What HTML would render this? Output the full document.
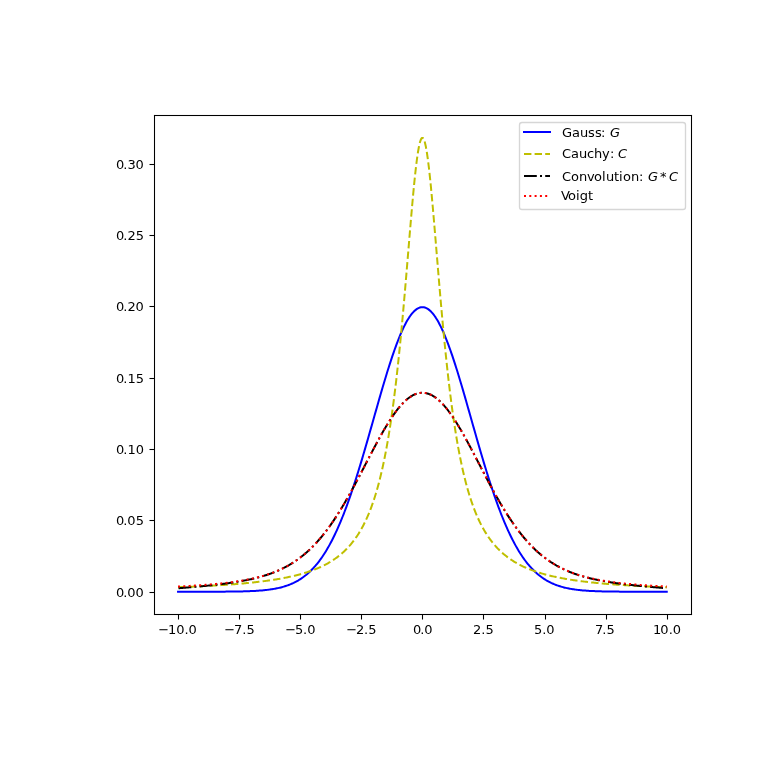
<!DOCTYPE html>
<html lang="en">
<head>
<meta charset="utf-8">
<title>Voigt profile: Gauss, Cauchy and their convolution</title>
<style>
html,body{margin:0;padding:0;background:#fff;}
body{width:768px;height:768px;overflow:hidden;}
svg{display:block;will-change:transform;}
text{font-family:"DejaVu Sans","Liberation Sans",sans-serif;font-size:13px;fill:#000;mix-blend-mode:multiply;white-space:pre;}
.it{font-style:oblique;}
.spine,.tick{fill:#000;stroke:none;}
.curve{fill:none;stroke-width:2;stroke-linejoin:round;}
</style>
</head>
<body>
<svg width="768" height="768" viewBox="0 0 768 768">
<defs><clipPath id="ax"><rect x="153.6" y="115.2" width="537.6" height="499.2"/></clipPath></defs>
<rect x="0" y="0" width="768" height="768" fill="#ffffff"/>
<g id="xaxis">
<rect class="tick" x="177.967" y="614.5" width="1.067" height="5"/>
<text id="xt0" x="158.24 167.88 176.15 184.41 188.43" y="634">−10.0</text>
<rect class="tick" x="238.967" y="614.5" width="1.067" height="5"/>
<text id="xt1" x="224.22 233.98 242.25 246.50" y="634">−7.5</text>
<rect class="tick" x="299.967" y="614.5" width="1.067" height="5"/>
<text id="xt2" x="285.18 294.95 302.96 307.21" y="634">−5.0</text>
<rect class="tick" x="360.967" y="614.5" width="1.067" height="5"/>
<text id="xt3" x="346.15 355.91 363.93 368.18" y="634">−2.5</text>
<rect class="tick" x="421.967" y="614.5" width="1.067" height="5"/>
<text id="xt4" x="412.93 420.20 424.20" y="634">0.0</text>
<rect class="tick" x="482.967" y="614.5" width="1.067" height="5"/>
<text id="xt5" x="472.90 481.16 485.41" y="634">2.5</text>
<rect class="tick" x="544.967" y="614.5" width="1.067" height="5"/>
<text id="xt6" x="533.99 542.13 546.13" y="634">5.0</text>
<rect class="tick" x="605.967" y="614.5" width="1.067" height="5"/>
<text id="xt7" x="594.95 602.22 606.47" y="634">7.5</text>
<rect class="tick" x="666.967" y="614.5" width="1.067" height="5"/>
<text id="xt8" x="652.91 660.17 668.69 672.71" y="634">10.0</text>
</g>
<g id="yaxis">
<rect class="tick" x="149.5" y="591.967" width="5" height="1.067"/>
<text id="yt0" x="115.94 123.21 127.21 135.49" y="597">0.00</text>
<rect class="tick" x="149.5" y="519.967" width="5" height="1.067"/>
<text id="yt1" x="115.94 123.21 127.21 135.74" y="525">0.05</text>
<rect class="tick" x="149.5" y="448.967" width="5" height="1.067"/>
<text id="yt2" x="115.94 123.21 127.46 135.74" y="454">0.10</text>
<rect class="tick" x="149.5" y="377.967" width="5" height="1.067"/>
<text id="yt3" x="115.94 123.21 127.46 135.74" y="383">0.15</text>
<rect class="tick" x="149.5" y="305.967" width="5" height="1.067"/>
<text id="yt4" x="115.94 123.21 127.46 135.49" y="311">0.20</text>
<rect class="tick" x="149.5" y="234.967" width="5" height="1.067"/>
<text id="yt5" x="115.94 123.21 127.46 135.74" y="240">0.25</text>
<rect class="tick" x="149.5" y="163.967" width="5" height="1.067"/>
<text id="yt6" x="115.94 123.21 127.46 135.49" y="169">0.30</text>
</g>
<g id="curves" clip-path="url(#ax)">
<path class="curve" stroke="#0000ff" stroke-linecap="square" d="M178.04 591.71
L179.02 591.71L180.00 591.71L180.97 591.71L181.95 591.71L182.93 591.71L183.91 591.71L184.89 591.71L185.87 591.71
L186.85 591.71L187.83 591.71L188.81 591.71L189.79 591.71L190.77 591.71L191.75 591.71L192.73 591.71L193.71 591.71
L194.69 591.70L195.67 591.70L196.65 591.70L197.62 591.70L198.60 591.70L199.58 591.70L200.56 591.70L201.54 591.70
L202.52 591.70L203.50 591.70L204.48 591.70L205.46 591.70L206.44 591.69L207.42 591.69L208.40 591.69L209.38 591.69
L210.36 591.69L211.34 591.68L212.32 591.68L213.30 591.68L214.27 591.68L215.25 591.67L216.23 591.67L217.21 591.67
L218.19 591.66L219.17 591.66L220.15 591.66L221.13 591.65L222.11 591.65L223.09 591.64L224.07 591.63L225.05 591.63
L226.03 591.62L227.01 591.61L227.99 591.61L228.97 591.60L229.95 591.59L230.92 591.58L231.90 591.57L232.88 591.56
L233.86 591.54L234.84 591.53L235.82 591.52L236.80 591.50L237.78 591.48L238.76 591.47L239.74 591.45L240.72 591.43
L241.70 591.40L242.68 591.38L243.66 591.36L244.64 591.33L245.62 591.30L246.60 591.27L247.57 591.24L248.55 591.20
L249.53 591.16L250.51 591.12L251.49 591.08L252.47 591.04L253.45 590.99L254.43 590.94L255.41 590.88L256.39 590.82
L257.37 590.76L258.35 590.69L259.33 590.62L260.31 590.55L261.29 590.47L262.27 590.38L263.25 590.29L264.22 590.20
L265.20 590.10L266.18 589.99L267.16 589.88L268.14 589.76L269.12 589.63L270.10 589.50L271.08 589.35L272.06 589.20
L273.04 589.04L274.02 588.88L275.00 588.70L275.98 588.51L276.96 588.31L277.94 588.11L278.92 587.89L279.90 587.66
L280.87 587.41L281.85 587.16L282.83 586.89L283.81 586.61L284.79 586.31L285.77 586.00L286.75 585.67L287.73 585.32
L288.71 584.96L289.69 584.58L290.67 584.19L291.65 583.77L292.63 583.33L293.61 582.88L294.59 582.40L295.57 581.90
L296.55 581.38L297.52 580.84L298.50 580.27L299.48 579.67L300.46 579.05L301.44 578.41L302.42 577.73L303.40 577.03
L304.38 576.30L305.36 575.54L306.34 574.75L307.32 573.92L308.30 573.07L309.28 572.18L310.26 571.26L311.24 570.30
L312.22 569.30L313.20 568.27L314.17 567.20L315.15 566.10L316.13 564.95L317.11 563.77L318.09 562.54L319.07 561.27
L320.05 559.96L321.03 558.60L322.01 557.21L322.99 555.76L323.97 554.28L324.95 552.74L325.93 551.16L326.91 549.53
L327.89 547.86L328.87 546.13L329.85 544.36L330.82 542.54L331.80 540.67L332.78 538.75L333.76 536.78L334.74 534.75
L335.72 532.68L336.70 530.56L337.68 528.38L338.66 526.16L339.64 523.88L340.62 521.56L341.60 519.18L342.58 516.75
L343.56 514.27L344.54 511.74L345.52 509.16L346.50 506.54L347.47 503.86L348.45 501.14L349.43 498.37L350.41 495.56
L351.39 492.69L352.37 489.79L353.35 486.84L354.33 483.85L355.31 480.82L356.29 477.75L357.27 474.64L358.25 471.50
L359.23 468.32L360.21 465.11L361.19 461.86L362.17 458.59L363.15 455.29L364.12 451.96L365.10 448.61L366.08 445.24
L367.06 441.85L368.04 438.44L369.02 435.01L370.00 431.58L370.98 428.13L371.96 424.68L372.94 421.22L373.92 417.77
L374.90 414.31L375.88 410.86L376.86 407.41L377.84 403.97L378.82 400.55L379.80 397.14L380.77 393.75L381.75 390.39
L382.73 387.04L383.71 383.73L384.69 380.45L385.67 377.20L386.65 373.99L387.63 370.82L388.61 367.69L389.59 364.61
L390.57 361.58L391.55 358.60L392.53 355.68L393.51 352.82L394.49 350.02L395.47 347.29L396.45 344.63L397.42 342.03
L398.40 339.51L399.38 337.07L400.36 334.71L401.34 332.43L402.32 330.23L403.30 328.12L404.28 326.10L405.26 324.18
L406.24 322.34L407.22 320.61L408.20 318.97L409.18 317.43L410.16 315.99L411.14 314.66L412.12 313.44L413.10 312.32
L414.07 311.30L415.05 310.40L416.03 309.61L417.01 308.93L417.99 308.36L418.97 307.91L419.95 307.56L420.93 307.34
L421.91 307.22L422.89 307.22L423.87 307.34L424.85 307.56L425.83 307.91L426.81 308.36L427.79 308.93L428.77 309.61
L429.75 310.40L430.73 311.30L431.70 312.32L432.68 313.44L433.66 314.66L434.64 315.99L435.62 317.43L436.60 318.97
L437.58 320.61L438.56 322.34L439.54 324.18L440.52 326.10L441.50 328.12L442.48 330.23L443.46 332.43L444.44 334.71
L445.42 337.07L446.40 339.51L447.38 342.03L448.35 344.63L449.33 347.29L450.31 350.02L451.29 352.82L452.27 355.68
L453.25 358.60L454.23 361.58L455.21 364.61L456.19 367.69L457.17 370.82L458.15 373.99L459.13 377.20L460.11 380.45
L461.09 383.73L462.07 387.04L463.05 390.39L464.03 393.75L465.00 397.14L465.98 400.55L466.96 403.97L467.94 407.41
L468.92 410.86L469.90 414.31L470.88 417.77L471.86 421.22L472.84 424.68L473.82 428.13L474.80 431.58L475.78 435.01
L476.76 438.44L477.74 441.85L478.72 445.24L479.70 448.61L480.68 451.96L481.65 455.29L482.63 458.59L483.61 461.86
L484.59 465.11L485.57 468.32L486.55 471.50L487.53 474.64L488.51 477.75L489.49 480.82L490.47 483.85L491.45 486.84
L492.43 489.79L493.41 492.69L494.39 495.56L495.37 498.37L496.35 501.14L497.33 503.86L498.30 506.54L499.28 509.16
L500.26 511.74L501.24 514.27L502.22 516.75L503.20 519.18L504.18 521.56L505.16 523.88L506.14 526.16L507.12 528.38
L508.10 530.56L509.08 532.68L510.06 534.75L511.04 536.78L512.02 538.75L513.00 540.67L513.98 542.54L514.95 544.36
L515.93 546.13L516.91 547.86L517.89 549.53L518.87 551.16L519.85 552.74L520.83 554.28L521.81 555.76L522.79 557.21
L523.77 558.60L524.75 559.96L525.73 561.27L526.71 562.54L527.69 563.77L528.67 564.95L529.65 566.10L530.63 567.20
L531.60 568.27L532.58 569.30L533.56 570.30L534.54 571.26L535.52 572.18L536.50 573.07L537.48 573.92L538.46 574.75
L539.44 575.54L540.42 576.30L541.40 577.03L542.38 577.73L543.36 578.41L544.34 579.05L545.32 579.67L546.30 580.27
L547.28 580.84L548.25 581.38L549.23 581.90L550.21 582.40L551.19 582.88L552.17 583.33L553.15 583.77L554.13 584.19
L555.11 584.58L556.09 584.96L557.07 585.32L558.05 585.67L559.03 586.00L560.01 586.31L560.99 586.61L561.97 586.89
L562.95 587.16L563.93 587.41L564.90 587.66L565.88 587.89L566.86 588.11L567.84 588.31L568.82 588.51L569.80 588.70
L570.78 588.88L571.76 589.04L572.74 589.20L573.72 589.35L574.70 589.50L575.68 589.63L576.66 589.76L577.64 589.88
L578.62 589.99L579.60 590.10L580.58 590.20L581.55 590.29L582.53 590.38L583.51 590.47L584.49 590.55L585.47 590.62
L586.45 590.69L587.43 590.76L588.41 590.82L589.39 590.88L590.37 590.94L591.35 590.99L592.33 591.04L593.31 591.08
L594.29 591.12L595.27 591.16L596.25 591.20L597.23 591.24L598.20 591.27L599.18 591.30L600.16 591.33L601.14 591.36
L602.12 591.38L603.10 591.40L604.08 591.43L605.06 591.45L606.04 591.47L607.02 591.48L608.00 591.50L608.98 591.52
L609.96 591.53L610.94 591.54L611.92 591.56L612.90 591.57L613.88 591.58L614.85 591.59L615.83 591.60L616.81 591.61
L617.79 591.61L618.77 591.62L619.75 591.63L620.73 591.63L621.71 591.64L622.69 591.65L623.67 591.65L624.65 591.66
L625.63 591.66L626.61 591.66L627.59 591.67L628.57 591.67L629.55 591.67L630.53 591.68L631.50 591.68L632.48 591.68
L633.46 591.68L634.44 591.69L635.42 591.69L636.40 591.69L637.38 591.69L638.36 591.69L639.34 591.70L640.32 591.70
L641.30 591.70L642.28 591.70L643.26 591.70L644.24 591.70L645.22 591.70L646.20 591.70L647.18 591.70L648.15 591.70
L649.13 591.70L650.11 591.70L651.09 591.71L652.07 591.71L653.05 591.71L654.03 591.71L655.01 591.71L655.99 591.71
L656.97 591.71L657.95 591.71L658.93 591.71L659.91 591.71L660.89 591.71L661.87 591.71L662.85 591.71L663.83 591.71
L664.80 591.71L665.78 591.71L666.76 591.71"/>
<path class="curve" stroke="#bfbf00" stroke-dasharray="7.4 3.2" d="M178.04 587.22
L179.02 587.18L180.00 587.14L180.97 587.11L181.95 587.07L182.93 587.03L183.91 586.99L184.89 586.95L185.87 586.92
L186.85 586.88L187.83 586.84L188.81 586.80L189.79 586.75L190.77 586.71L191.75 586.67L192.73 586.63L193.71 586.59
L194.69 586.54L195.67 586.50L196.65 586.45L197.62 586.41L198.60 586.36L199.58 586.31L200.56 586.27L201.54 586.22
L202.52 586.17L203.50 586.12L204.48 586.07L205.46 586.02L206.44 585.97L207.42 585.92L208.40 585.87L209.38 585.81
L210.36 585.76L211.34 585.71L212.32 585.65L213.30 585.59L214.27 585.54L215.25 585.48L216.23 585.42L217.21 585.36
L218.19 585.30L219.17 585.24L220.15 585.18L221.13 585.12L222.11 585.05L223.09 584.99L224.07 584.92L225.05 584.85
L226.03 584.79L227.01 584.72L227.99 584.65L228.97 584.58L229.95 584.51L230.92 584.43L231.90 584.36L232.88 584.29
L233.86 584.21L234.84 584.13L235.82 584.05L236.80 583.97L237.78 583.89L238.76 583.81L239.74 583.73L240.72 583.64
L241.70 583.56L242.68 583.47L243.66 583.38L244.64 583.29L245.62 583.20L246.60 583.10L247.57 583.01L248.55 582.91
L249.53 582.82L250.51 582.72L251.49 582.61L252.47 582.51L253.45 582.41L254.43 582.30L255.41 582.19L256.39 582.08
L257.37 581.97L258.35 581.86L259.33 581.74L260.31 581.62L261.29 581.50L262.27 581.38L263.25 581.25L264.22 581.13
L265.20 581.00L266.18 580.87L267.16 580.73L268.14 580.60L269.12 580.46L270.10 580.32L271.08 580.17L272.06 580.02
L273.04 579.87L274.02 579.72L275.00 579.57L275.98 579.41L276.96 579.25L277.94 579.08L278.92 578.91L279.90 578.74
L280.87 578.57L281.85 578.39L282.83 578.21L283.81 578.02L284.79 577.83L285.77 577.64L286.75 577.44L287.73 577.24
L288.71 577.03L289.69 576.82L290.67 576.61L291.65 576.39L292.63 576.16L293.61 575.93L294.59 575.70L295.57 575.46
L296.55 575.22L297.52 574.97L298.50 574.71L299.48 574.45L300.46 574.18L301.44 573.91L302.42 573.63L303.40 573.34
L304.38 573.05L305.36 572.75L306.34 572.44L307.32 572.12L308.30 571.80L309.28 571.47L310.26 571.13L311.24 570.78
L312.22 570.43L313.20 570.06L314.17 569.69L315.15 569.30L316.13 568.91L317.11 568.50L318.09 568.09L319.07 567.66
L320.05 567.23L321.03 566.78L322.01 566.31L322.99 565.84L323.97 565.35L324.95 564.85L325.93 564.34L326.91 563.81
L327.89 563.26L328.87 562.70L329.85 562.13L330.82 561.53L331.80 560.92L332.78 560.29L333.76 559.64L334.74 558.97
L335.72 558.28L336.70 557.57L337.68 556.84L338.66 556.08L339.64 555.30L340.62 554.50L341.60 553.67L342.58 552.81
L343.56 551.92L344.54 551.00L345.52 550.06L346.50 549.08L347.47 548.06L348.45 547.01L349.43 545.93L350.41 544.80
L351.39 543.64L352.37 542.43L353.35 541.18L354.33 539.88L355.31 538.53L356.29 537.14L357.27 535.69L358.25 534.18
L359.23 532.62L360.21 530.99L361.19 529.31L362.17 527.55L363.15 525.72L364.12 523.82L365.10 521.84L366.08 519.77
L367.06 517.62L368.04 515.38L369.02 513.05L370.00 510.61L370.98 508.06L371.96 505.41L372.94 502.63L373.92 499.73
L374.90 496.70L375.88 493.54L376.86 490.22L377.84 486.76L378.82 483.13L379.80 479.33L380.77 475.35L381.75 471.18
L382.73 466.81L383.71 462.23L384.69 457.43L385.67 452.40L386.65 447.13L387.63 441.60L388.61 435.81L389.59 429.73
L390.57 423.36L391.55 416.69L392.53 409.70L393.51 402.38L394.49 394.73L395.47 386.73L396.45 378.37L397.42 369.66
L398.40 360.58L399.38 351.13L400.36 341.33L401.34 331.17L402.32 320.68L403.30 309.87L404.28 298.77L405.26 287.41
L406.24 275.85L407.22 264.13L408.20 252.33L409.18 240.53L410.16 228.80L411.14 217.26L412.12 206.02L413.10 195.20
L414.07 184.92L415.05 175.33L416.03 166.56L417.01 158.75L417.99 152.01L418.97 146.47L419.95 142.22L420.93 139.34
L421.91 137.89L422.89 137.89L423.87 139.34L424.85 142.22L425.83 146.47L426.81 152.01L427.79 158.75L428.77 166.56
L429.75 175.33L430.73 184.92L431.70 195.20L432.68 206.02L433.66 217.26L434.64 228.80L435.62 240.53L436.60 252.33
L437.58 264.13L438.56 275.85L439.54 287.41L440.52 298.77L441.50 309.87L442.48 320.68L443.46 331.17L444.44 341.33
L445.42 351.13L446.40 360.58L447.38 369.66L448.35 378.37L449.33 386.73L450.31 394.73L451.29 402.38L452.27 409.70
L453.25 416.69L454.23 423.36L455.21 429.73L456.19 435.81L457.17 441.60L458.15 447.13L459.13 452.40L460.11 457.43
L461.09 462.23L462.07 466.81L463.05 471.18L464.03 475.35L465.00 479.33L465.98 483.13L466.96 486.76L467.94 490.22
L468.92 493.54L469.90 496.70L470.88 499.73L471.86 502.63L472.84 505.41L473.82 508.06L474.80 510.61L475.78 513.05
L476.76 515.38L477.74 517.62L478.72 519.77L479.70 521.84L480.68 523.82L481.65 525.72L482.63 527.55L483.61 529.31
L484.59 530.99L485.57 532.62L486.55 534.18L487.53 535.69L488.51 537.14L489.49 538.53L490.47 539.88L491.45 541.18
L492.43 542.43L493.41 543.64L494.39 544.80L495.37 545.93L496.35 547.01L497.33 548.06L498.30 549.08L499.28 550.06
L500.26 551.00L501.24 551.92L502.22 552.81L503.20 553.67L504.18 554.50L505.16 555.30L506.14 556.08L507.12 556.84
L508.10 557.57L509.08 558.28L510.06 558.97L511.04 559.64L512.02 560.29L513.00 560.92L513.98 561.53L514.95 562.13
L515.93 562.70L516.91 563.26L517.89 563.81L518.87 564.34L519.85 564.85L520.83 565.35L521.81 565.84L522.79 566.31
L523.77 566.78L524.75 567.23L525.73 567.66L526.71 568.09L527.69 568.50L528.67 568.91L529.65 569.30L530.63 569.69
L531.60 570.06L532.58 570.43L533.56 570.78L534.54 571.13L535.52 571.47L536.50 571.80L537.48 572.12L538.46 572.44
L539.44 572.75L540.42 573.05L541.40 573.34L542.38 573.63L543.36 573.91L544.34 574.18L545.32 574.45L546.30 574.71
L547.28 574.97L548.25 575.22L549.23 575.46L550.21 575.70L551.19 575.93L552.17 576.16L553.15 576.39L554.13 576.61
L555.11 576.82L556.09 577.03L557.07 577.24L558.05 577.44L559.03 577.64L560.01 577.83L560.99 578.02L561.97 578.21
L562.95 578.39L563.93 578.57L564.90 578.74L565.88 578.91L566.86 579.08L567.84 579.25L568.82 579.41L569.80 579.57
L570.78 579.72L571.76 579.87L572.74 580.02L573.72 580.17L574.70 580.32L575.68 580.46L576.66 580.60L577.64 580.73
L578.62 580.87L579.60 581.00L580.58 581.13L581.55 581.25L582.53 581.38L583.51 581.50L584.49 581.62L585.47 581.74
L586.45 581.86L587.43 581.97L588.41 582.08L589.39 582.19L590.37 582.30L591.35 582.41L592.33 582.51L593.31 582.61
L594.29 582.72L595.27 582.82L596.25 582.91L597.23 583.01L598.20 583.10L599.18 583.20L600.16 583.29L601.14 583.38
L602.12 583.47L603.10 583.56L604.08 583.64L605.06 583.73L606.04 583.81L607.02 583.89L608.00 583.97L608.98 584.05
L609.96 584.13L610.94 584.21L611.92 584.29L612.90 584.36L613.88 584.43L614.85 584.51L615.83 584.58L616.81 584.65
L617.79 584.72L618.77 584.79L619.75 584.85L620.73 584.92L621.71 584.99L622.69 585.05L623.67 585.12L624.65 585.18
L625.63 585.24L626.61 585.30L627.59 585.36L628.57 585.42L629.55 585.48L630.53 585.54L631.50 585.59L632.48 585.65
L633.46 585.71L634.44 585.76L635.42 585.81L636.40 585.87L637.38 585.92L638.36 585.97L639.34 586.02L640.32 586.07
L641.30 586.12L642.28 586.17L643.26 586.22L644.24 586.27L645.22 586.31L646.20 586.36L647.18 586.41L648.15 586.45
L649.13 586.50L650.11 586.54L651.09 586.59L652.07 586.63L653.05 586.67L654.03 586.71L655.01 586.75L655.99 586.80
L656.97 586.84L657.95 586.88L658.93 586.92L659.91 586.95L660.89 586.99L661.87 587.03L662.85 587.07L663.83 587.11
L664.80 587.14L665.78 587.18L666.76 587.22"/>
<path class="curve" stroke="#000000" stroke-dasharray="12.8 3.2 2 3.2" d="M178.53 588.21
L179.51 588.14L180.48 588.07L181.46 587.99L182.44 587.92L183.42 587.84L184.40 587.77L185.38 587.69L186.36 587.61
L187.34 587.53L188.32 587.45L189.30 587.37L190.28 587.28L191.26 587.20L192.24 587.12L193.22 587.03L194.20 586.95
L195.18 586.86L196.16 586.77L197.13 586.68L198.11 586.59L199.09 586.50L200.07 586.41L201.05 586.31L202.03 586.22
L203.01 586.12L203.99 586.03L204.97 585.93L205.95 585.83L206.93 585.73L207.91 585.63L208.89 585.53L209.87 585.42
L210.85 585.32L211.83 585.21L212.81 585.10L213.78 584.99L214.76 584.88L215.74 584.77L216.72 584.65L217.70 584.54
L218.68 584.42L219.66 584.30L220.64 584.18L221.62 584.06L222.60 583.93L223.58 583.81L224.56 583.68L225.54 583.55
L226.52 583.42L227.50 583.28L228.48 583.14L229.46 583.00L230.43 582.86L231.41 582.72L232.39 582.57L233.37 582.42
L234.35 582.27L235.33 582.11L236.31 581.96L237.29 581.80L238.27 581.63L239.25 581.46L240.23 581.29L241.21 581.12
L242.19 580.94L243.17 580.76L244.15 580.57L245.13 580.39L246.11 580.19L247.09 580.00L248.06 579.79L249.04 579.59
L250.02 579.38L251.00 579.16L251.98 578.94L252.96 578.72L253.94 578.48L254.92 578.25L255.90 578.01L256.88 577.76
L257.86 577.51L258.84 577.25L259.82 576.98L260.80 576.71L261.78 576.43L262.76 576.15L263.74 575.85L264.71 575.55
L265.69 575.25L266.67 574.93L267.65 574.61L268.63 574.28L269.61 573.94L270.59 573.59L271.57 573.23L272.55 572.87
L273.53 572.49L274.51 572.10L275.49 571.71L276.47 571.30L277.45 570.89L278.43 570.46L279.41 570.03L280.39 569.58
L281.36 569.12L282.34 568.65L283.32 568.16L284.30 567.67L285.28 567.16L286.26 566.64L287.24 566.10L288.22 565.56
L289.20 564.99L290.18 564.42L291.16 563.83L292.14 563.22L293.12 562.60L294.10 561.97L295.08 561.32L296.06 560.65
L297.04 559.97L298.01 559.27L298.99 558.55L299.97 557.82L300.95 557.07L301.93 556.30L302.91 555.51L303.89 554.71
L304.87 553.88L305.85 553.04L306.83 552.18L307.81 551.30L308.79 550.40L309.77 549.48L310.75 548.54L311.73 547.58
L312.71 546.60L313.69 545.60L314.66 544.58L315.64 543.54L316.62 542.47L317.60 541.39L318.58 540.28L319.56 539.15
L320.54 538.00L321.52 536.83L322.50 535.64L323.48 534.42L324.46 533.19L325.44 531.93L326.42 530.64L327.40 529.34
L328.38 528.01L329.36 526.67L330.34 525.30L331.31 523.90L332.29 522.49L333.27 521.06L334.25 519.60L335.23 518.12
L336.21 516.63L337.19 515.11L338.17 513.57L339.15 512.01L340.13 510.43L341.11 508.83L342.09 507.21L343.07 505.57
L344.05 503.92L345.03 502.25L346.01 500.56L346.99 498.85L347.96 497.13L348.94 495.39L349.92 493.64L350.90 491.87
L351.88 490.09L352.86 488.29L353.84 486.48L354.82 484.67L355.80 482.84L356.78 481.00L357.76 479.15L358.74 477.29
L359.72 475.43L360.70 473.56L361.68 471.68L362.66 469.80L363.64 467.92L364.61 466.04L365.59 464.15L366.57 462.26
L367.55 460.37L368.53 458.49L369.51 456.61L370.49 454.73L371.47 452.86L372.45 451.00L373.43 449.14L374.41 447.29
L375.39 445.45L376.37 443.63L377.35 441.81L378.33 440.01L379.31 438.23L380.29 436.46L381.26 434.71L382.24 432.98
L383.22 431.27L384.20 429.59L385.18 427.92L386.16 426.28L387.14 424.67L388.12 423.08L389.10 421.52L390.08 419.99
L391.06 418.49L392.04 417.02L393.02 415.59L394.00 414.18L394.98 412.82L395.96 411.49L396.94 410.20L397.91 408.95
L398.89 407.73L399.87 406.56L400.85 405.43L401.83 404.35L402.81 403.30L403.79 402.31L404.77 401.35L405.75 400.45
L406.73 399.59L407.71 398.78L408.69 398.02L409.67 397.30L410.65 396.64L411.63 396.03L412.61 395.47L413.59 394.96
L414.56 394.50L415.54 394.10L416.52 393.75L417.50 393.45L418.48 393.21L419.46 393.02L420.44 392.88L421.42 392.80
L422.40 392.77L423.38 392.80L424.36 392.88L425.34 393.02L426.32 393.21L427.30 393.45L428.28 393.75L429.26 394.10
L430.24 394.50L431.21 394.96L432.19 395.47L433.17 396.03L434.15 396.64L435.13 397.30L436.11 398.02L437.09 398.78
L438.07 399.59L439.05 400.45L440.03 401.35L441.01 402.31L441.99 403.30L442.97 404.35L443.95 405.43L444.93 406.56
L445.91 407.73L446.89 408.95L447.86 410.20L448.84 411.49L449.82 412.82L450.80 414.18L451.78 415.59L452.76 417.02
L453.74 418.49L454.72 419.99L455.70 421.52L456.68 423.08L457.66 424.67L458.64 426.28L459.62 427.92L460.60 429.59
L461.58 431.27L462.56 432.98L463.54 434.71L464.51 436.46L465.49 438.23L466.47 440.01L467.45 441.81L468.43 443.63
L469.41 445.45L470.39 447.29L471.37 449.14L472.35 451.00L473.33 452.86L474.31 454.73L475.29 456.61L476.27 458.49
L477.25 460.37L478.23 462.26L479.21 464.15L480.19 466.04L481.16 467.92L482.14 469.80L483.12 471.68L484.10 473.56
L485.08 475.43L486.06 477.29L487.04 479.15L488.02 481.00L489.00 482.84L489.98 484.67L490.96 486.48L491.94 488.29
L492.92 490.09L493.90 491.87L494.88 493.64L495.86 495.39L496.84 497.13L497.81 498.85L498.79 500.56L499.77 502.25
L500.75 503.92L501.73 505.57L502.71 507.21L503.69 508.83L504.67 510.43L505.65 512.01L506.63 513.57L507.61 515.11
L508.59 516.63L509.57 518.12L510.55 519.60L511.53 521.06L512.51 522.49L513.49 523.90L514.46 525.30L515.44 526.67
L516.42 528.01L517.40 529.34L518.38 530.64L519.36 531.93L520.34 533.19L521.32 534.42L522.30 535.64L523.28 536.83
L524.26 538.00L525.24 539.15L526.22 540.28L527.20 541.39L528.18 542.47L529.16 543.54L530.14 544.58L531.11 545.60
L532.09 546.60L533.07 547.58L534.05 548.54L535.03 549.48L536.01 550.40L536.99 551.30L537.97 552.18L538.95 553.04
L539.93 553.88L540.91 554.71L541.89 555.51L542.87 556.30L543.85 557.07L544.83 557.82L545.81 558.55L546.79 559.27
L547.76 559.97L548.74 560.65L549.72 561.32L550.70 561.97L551.68 562.60L552.66 563.22L553.64 563.83L554.62 564.42
L555.60 564.99L556.58 565.56L557.56 566.10L558.54 566.64L559.52 567.16L560.50 567.67L561.48 568.16L562.46 568.65
L563.44 569.12L564.41 569.58L565.39 570.03L566.37 570.46L567.35 570.89L568.33 571.30L569.31 571.71L570.29 572.10
L571.27 572.49L572.25 572.87L573.23 573.23L574.21 573.59L575.19 573.94L576.17 574.28L577.15 574.61L578.13 574.93
L579.11 575.25L580.09 575.55L581.06 575.85L582.04 576.15L583.02 576.43L584.00 576.71L584.98 576.98L585.96 577.25
L586.94 577.51L587.92 577.76L588.90 578.01L589.88 578.25L590.86 578.48L591.84 578.72L592.82 578.94L593.80 579.16
L594.78 579.38L595.76 579.59L596.74 579.79L597.71 580.00L598.69 580.19L599.67 580.39L600.65 580.57L601.63 580.76
L602.61 580.94L603.59 581.12L604.57 581.29L605.55 581.46L606.53 581.63L607.51 581.80L608.49 581.96L609.47 582.11
L610.45 582.27L611.43 582.42L612.41 582.57L613.39 582.72L614.37 582.86L615.34 583.00L616.32 583.14L617.30 583.28
L618.28 583.42L619.26 583.55L620.24 583.68L621.22 583.81L622.20 583.93L623.18 584.06L624.16 584.18L625.14 584.30
L626.12 584.42L627.10 584.54L628.08 584.65L629.06 584.77L630.04 584.88L631.02 584.99L631.99 585.10L632.97 585.21
L633.95 585.32L634.93 585.42L635.91 585.53L636.89 585.63L637.87 585.73L638.85 585.83L639.83 585.93L640.81 586.03
L641.79 586.12L642.77 586.22L643.75 586.31L644.73 586.41L645.71 586.50L646.69 586.59L647.67 586.68L648.64 586.77
L649.62 586.86L650.60 586.95L651.58 587.03L652.56 587.12L653.54 587.20L654.52 587.28L655.50 587.37L656.48 587.45
L657.46 587.53L658.44 587.61L659.42 587.69L660.40 587.77L661.38 587.84L662.36 587.92L663.34 587.99L664.32 588.07
L665.29 588.14L666.27 588.21"/>
<path class="curve" stroke="#ff0000" stroke-dasharray="2 3.3" d="M178.04 586.54
L179.02 586.49L180.00 586.45L180.97 586.40L181.95 586.35L182.93 586.29L183.91 586.24L184.89 586.19L185.87 586.14
L186.85 586.08L187.83 586.03L188.81 585.97L189.79 585.91L190.77 585.85L191.75 585.79L192.73 585.73L193.71 585.67
L194.69 585.61L195.67 585.55L196.65 585.48L197.62 585.42L198.60 585.35L199.58 585.28L200.56 585.21L201.54 585.14
L202.52 585.07L203.50 585.00L204.48 584.93L205.46 584.85L206.44 584.77L207.42 584.70L208.40 584.62L209.38 584.54
L210.36 584.45L211.34 584.37L212.32 584.28L213.30 584.20L214.27 584.11L215.25 584.01L216.23 583.92L217.21 583.83
L218.19 583.73L219.17 583.63L220.15 583.53L221.13 583.43L222.11 583.32L223.09 583.22L224.07 583.11L225.05 583.00
L226.03 582.88L227.01 582.77L227.99 582.65L228.97 582.53L229.95 582.40L230.92 582.27L231.90 582.14L232.88 582.01
L233.86 581.88L234.84 581.74L235.82 581.60L236.80 581.45L237.78 581.30L238.76 581.15L239.74 580.99L240.72 580.83
L241.70 580.67L242.68 580.50L243.66 580.33L244.64 580.16L245.62 579.98L246.60 579.79L247.57 579.60L248.55 579.41
L249.53 579.21L250.51 579.01L251.49 578.80L252.47 578.59L253.45 578.37L254.43 578.14L255.41 577.91L256.39 577.68
L257.37 577.44L258.35 577.19L259.33 576.93L260.31 576.67L261.29 576.40L262.27 576.13L263.25 575.85L264.22 575.56
L265.20 575.26L266.18 574.95L267.16 574.64L268.14 574.32L269.12 573.99L270.10 573.65L271.08 573.30L272.06 572.95
L273.04 572.58L274.02 572.20L275.00 571.82L275.98 571.42L276.96 571.02L277.94 570.60L278.92 570.17L279.90 569.73
L280.87 569.28L281.85 568.82L282.83 568.35L283.81 567.86L284.79 567.36L285.77 566.85L286.75 566.32L287.73 565.78
L288.71 565.23L289.69 564.66L290.67 564.08L291.65 563.49L292.63 562.88L293.61 562.25L294.59 561.61L295.57 560.95
L296.55 560.28L297.52 559.59L298.50 558.88L299.48 558.16L300.46 557.42L301.44 556.66L302.42 555.89L303.40 555.09
L304.38 554.28L305.36 553.45L306.34 552.60L307.32 551.73L308.30 550.84L309.28 549.93L310.26 549.00L311.24 548.05
L312.22 547.08L313.20 546.09L314.17 545.08L315.15 544.05L316.13 543.00L317.11 541.93L318.09 540.83L319.07 539.71
L320.05 538.57L321.03 537.41L322.01 536.23L322.99 535.03L323.97 533.80L324.95 532.55L325.93 531.28L326.91 529.99
L327.89 528.68L328.87 527.34L329.85 525.98L330.82 524.60L331.80 523.20L332.78 521.77L333.76 520.33L334.74 518.86
L335.72 517.37L336.70 515.87L337.68 514.34L338.66 512.79L339.64 511.22L340.62 509.63L341.60 508.02L342.58 506.39
L343.56 504.75L344.54 503.08L345.52 501.40L346.50 499.70L347.47 497.99L348.45 496.26L349.43 494.51L350.41 492.75
L351.39 490.98L352.37 489.19L353.35 487.39L354.33 485.58L355.31 483.75L356.29 481.92L357.27 480.07L358.25 478.22
L359.23 476.36L360.21 474.49L361.19 472.62L362.17 470.74L363.15 468.86L364.12 466.98L365.10 465.09L366.08 463.20
L367.06 461.32L368.04 459.43L369.02 457.55L370.00 455.67L370.98 453.80L371.96 451.93L372.94 450.07L373.92 448.21
L374.90 446.37L375.88 444.54L376.86 442.72L377.84 440.91L378.82 439.12L379.80 437.34L380.77 435.59L381.75 433.85
L382.73 432.13L383.71 430.43L384.69 428.75L385.67 427.10L386.65 425.47L387.63 423.87L388.61 422.29L389.59 420.75
L390.57 419.23L391.55 417.75L392.53 416.30L393.51 414.88L394.49 413.50L395.47 412.15L396.45 410.84L397.42 409.57
L398.40 408.34L399.38 407.14L400.36 405.99L401.34 404.88L402.32 403.82L403.30 402.80L404.28 401.82L405.26 400.89
L406.24 400.01L407.22 399.18L408.20 398.39L409.18 397.65L410.16 396.97L411.14 396.33L412.12 395.74L413.10 395.21
L414.07 394.72L415.05 394.29L416.03 393.92L417.01 393.59L417.99 393.32L418.97 393.11L419.95 392.94L420.93 392.84
L421.91 392.78L422.89 392.78L423.87 392.84L424.85 392.94L425.83 393.11L426.81 393.32L427.79 393.59L428.77 393.92
L429.75 394.29L430.73 394.72L431.70 395.21L432.68 395.74L433.66 396.33L434.64 396.97L435.62 397.65L436.60 398.39
L437.58 399.18L438.56 400.01L439.54 400.89L440.52 401.82L441.50 402.80L442.48 403.82L443.46 404.88L444.44 405.99
L445.42 407.14L446.40 408.34L447.38 409.57L448.35 410.84L449.33 412.15L450.31 413.50L451.29 414.88L452.27 416.30
L453.25 417.75L454.23 419.23L455.21 420.75L456.19 422.29L457.17 423.87L458.15 425.47L459.13 427.10L460.11 428.75
L461.09 430.43L462.07 432.13L463.05 433.85L464.03 435.59L465.00 437.34L465.98 439.12L466.96 440.91L467.94 442.72
L468.92 444.54L469.90 446.37L470.88 448.21L471.86 450.07L472.84 451.93L473.82 453.80L474.80 455.67L475.78 457.55
L476.76 459.43L477.74 461.32L478.72 463.20L479.70 465.09L480.68 466.98L481.65 468.86L482.63 470.74L483.61 472.62
L484.59 474.49L485.57 476.36L486.55 478.22L487.53 480.07L488.51 481.92L489.49 483.75L490.47 485.58L491.45 487.39
L492.43 489.19L493.41 490.98L494.39 492.75L495.37 494.51L496.35 496.26L497.33 497.99L498.30 499.70L499.28 501.40
L500.26 503.08L501.24 504.75L502.22 506.39L503.20 508.02L504.18 509.63L505.16 511.22L506.14 512.79L507.12 514.34
L508.10 515.87L509.08 517.37L510.06 518.86L511.04 520.33L512.02 521.77L513.00 523.20L513.98 524.60L514.95 525.98
L515.93 527.34L516.91 528.68L517.89 529.99L518.87 531.28L519.85 532.55L520.83 533.80L521.81 535.03L522.79 536.23
L523.77 537.41L524.75 538.57L525.73 539.71L526.71 540.83L527.69 541.93L528.67 543.00L529.65 544.05L530.63 545.08
L531.60 546.09L532.58 547.08L533.56 548.05L534.54 549.00L535.52 549.93L536.50 550.84L537.48 551.73L538.46 552.60
L539.44 553.45L540.42 554.28L541.40 555.09L542.38 555.89L543.36 556.66L544.34 557.42L545.32 558.16L546.30 558.88
L547.28 559.59L548.25 560.28L549.23 560.95L550.21 561.61L551.19 562.25L552.17 562.88L553.15 563.49L554.13 564.08
L555.11 564.66L556.09 565.23L557.07 565.78L558.05 566.32L559.03 566.85L560.01 567.36L560.99 567.86L561.97 568.35
L562.95 568.82L563.93 569.28L564.90 569.73L565.88 570.17L566.86 570.60L567.84 571.02L568.82 571.42L569.80 571.82
L570.78 572.20L571.76 572.58L572.74 572.95L573.72 573.30L574.70 573.65L575.68 573.99L576.66 574.32L577.64 574.64
L578.62 574.95L579.60 575.26L580.58 575.56L581.55 575.85L582.53 576.13L583.51 576.40L584.49 576.67L585.47 576.93
L586.45 577.19L587.43 577.44L588.41 577.68L589.39 577.91L590.37 578.14L591.35 578.37L592.33 578.59L593.31 578.80
L594.29 579.01L595.27 579.21L596.25 579.41L597.23 579.60L598.20 579.79L599.18 579.98L600.16 580.16L601.14 580.33
L602.12 580.50L603.10 580.67L604.08 580.83L605.06 580.99L606.04 581.15L607.02 581.30L608.00 581.45L608.98 581.60
L609.96 581.74L610.94 581.88L611.92 582.01L612.90 582.14L613.88 582.27L614.85 582.40L615.83 582.53L616.81 582.65
L617.79 582.77L618.77 582.88L619.75 583.00L620.73 583.11L621.71 583.22L622.69 583.32L623.67 583.43L624.65 583.53
L625.63 583.63L626.61 583.73L627.59 583.83L628.57 583.92L629.55 584.01L630.53 584.11L631.50 584.20L632.48 584.28
L633.46 584.37L634.44 584.45L635.42 584.54L636.40 584.62L637.38 584.70L638.36 584.77L639.34 584.85L640.32 584.93
L641.30 585.00L642.28 585.07L643.26 585.14L644.24 585.21L645.22 585.28L646.20 585.35L647.18 585.42L648.15 585.48
L649.13 585.55L650.11 585.61L651.09 585.67L652.07 585.73L653.05 585.79L654.03 585.85L655.01 585.91L655.99 585.97
L656.97 586.03L657.95 586.08L658.93 586.14L659.91 586.19L660.89 586.24L661.87 586.29L662.85 586.35L663.83 586.40
L664.80 586.45L665.78 586.49L666.76 586.54"/>
</g>
<g id="spines">
<rect class="spine" x="153.967" y="114.967" width="1.067" height="500.067"/>
<rect class="spine" x="690.967" y="114.967" width="1.067" height="500.067"/>
<rect class="spine" x="153.967" y="613.967" width="538.067" height="1.067"/>
<rect class="spine" x="153.967" y="114.967" width="538.067" height="1.067"/>
</g>
<g id="legend">
<rect x="519.5" y="122.5" width="166" height="87" rx="2.6" ry="2.6" fill="#ffffff" fill-opacity="0.8" stroke="#cccccc" stroke-opacity="0.8" stroke-width="1.333"/>
<line x1="524" y1="132" x2="550" y2="132" stroke="#0000ff" stroke-width="2" stroke-linecap="square"/>
<text id="lg0" x="561.90 571.96 579.93 587.92 594.95 600.96 605.35 609.99" y="137">Gauss: <tspan class="it">G</tspan></text>
<line x1="524" y1="154" x2="550" y2="154" stroke="#bfbf00" stroke-width="2" stroke-dasharray="7.4 3.2"/>
<text id="lg1" x="561.90 570.96 578.93 586.93 593.95 601.93 609.93 614.32 617.96" y="158">Cauchy: <tspan class="it">C</tspan></text>
<line x1="524" y1="176" x2="550" y2="176" stroke="#000000" stroke-width="2" stroke-dasharray="12.8 3.2 2 3.2"/>
<text id="lg2" x="561.90 570.96 578.92 586.92 593.98 601.93 605.92 613.92 618.88 622.99 630.95 638.93 643.32 647.96 658.03 659.95 666.45 668.98" y="181">Convolution: <tspan class="it">G</tspan> * <tspan class="it">C</tspan></text>
<line x1="524" y1="196" x2="550" y2="196" stroke="#ff0000" stroke-width="2" stroke-dasharray="2 3.3"/>
<text id="lg3" x="560.90 567.90 575.98 579.71 587.96" y="200">Voigt</text>
</g>
</svg>
</body>
</html>
